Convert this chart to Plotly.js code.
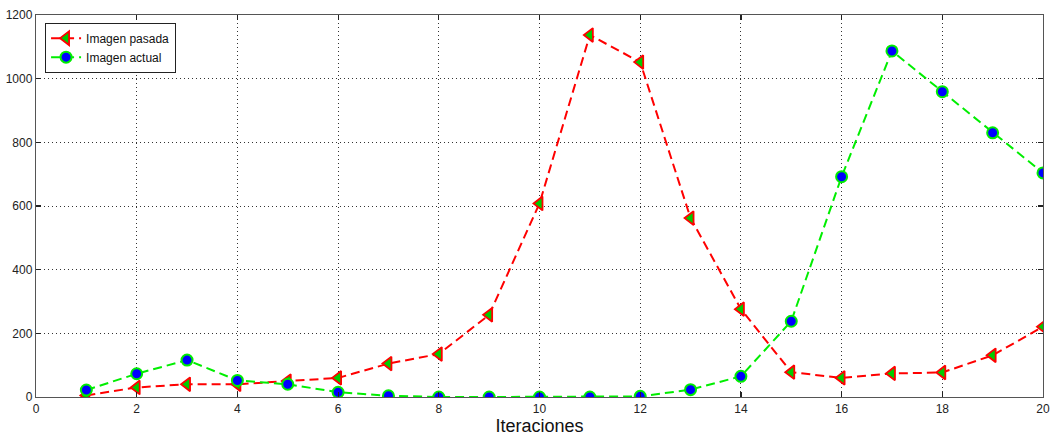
<!DOCTYPE html>
<html>
<head>
<meta charset="utf-8">
<script src="https://cdn.plot.ly/plotly-3.0.1.min.js"></script>
<style>html,body{margin:0;padding:0;background:#fff;}#chart{width:1050px;height:437px;}</style>
</head>
<body>
<div id="chart"></div>
<script>
const iteraciones = [1,2,3,4,5,6,7,8,9,10,11,12,13,14,15,16,17,18,19,20];
const imagenPasada = [5,30,40,40,50,60,105,135,258,608,1137,1052,562,276,78,60,74,77,131,221];
const imagenActual = [22,73,116,52,40,15,4,0,0,0,0,2,23,65,238,692,1087,959,830,704];
const xTicks = [0,2,4,6,8,10,12,14,16,18,20];
const yTicks = [0,200,400,600,800,1000,1200];

const traces = [
  {
    x: iteraciones, y: imagenPasada, name: 'Imagen pasada',
    mode: 'lines+markers',
    line: {color: '#ff0000', width: 2, dash: '9px,5px'},
    marker: {symbol: 'triangle-left', size: 12, color: '#00cc00', line: {color: '#ff0000', width: 1.8}}
  },
  {
    x: iteraciones, y: imagenActual, name: 'Imagen actual',
    mode: 'lines+markers',
    line: {color: '#00ee00', width: 2, dash: '9px,5px'},
    marker: {symbol: 'circle', size: 11, color: '#0000ff', line: {color: '#00ee00', width: 2}}
  }
];

const axisCommon = {
  showline: true, mirror: 'ticks', linecolor: '#555', linewidth: 1.2,
  ticks: 'inside', ticklen: 5, tickcolor: '#222', tickwidth: 1.2,
  showgrid: true, gridcolor: '#333', gridwidth: 1, griddash: '1px,3px',
  zeroline: false,
  tickfont: {family: 'Liberation Sans, Arial, sans-serif', size: 12, color: '#222'}
};

const layout = {
  width: 1050, height: 437,
  margin: {l: 36, r: 7, t: 15, b: 40},
  paper_bgcolor: '#fff', plot_bgcolor: '#fff',
  showlegend: true,
  legend: {
    x: 0.009, y: 0.98, xanchor: 'left', yanchor: 'top',
    bgcolor: '#fff', bordercolor: '#222', borderwidth: 1,
    font: {family: 'Liberation Sans, Arial, sans-serif', size: 12, color: '#111'},
    tracegroupgap: 0, itemwidth: 30
  },
  xaxis: Object.assign({}, axisCommon, {
    range: [0, 20], tickvals: xTicks, ticktext: xTicks.map(String),
    title: {text: 'Iteraciones', font: {family: 'Liberation Sans, Arial, sans-serif', size: 18, color: '#111'}, standoff: 4}
  }),
  yaxis: Object.assign({}, axisCommon, {
    range: [0, 1200], tickvals: yTicks, ticktext: yTicks.map(String)
  })
};

Plotly.newPlot('chart', traces, layout, {displayModeBar: false, staticPlot: true});
</script>
</body>
</html>
